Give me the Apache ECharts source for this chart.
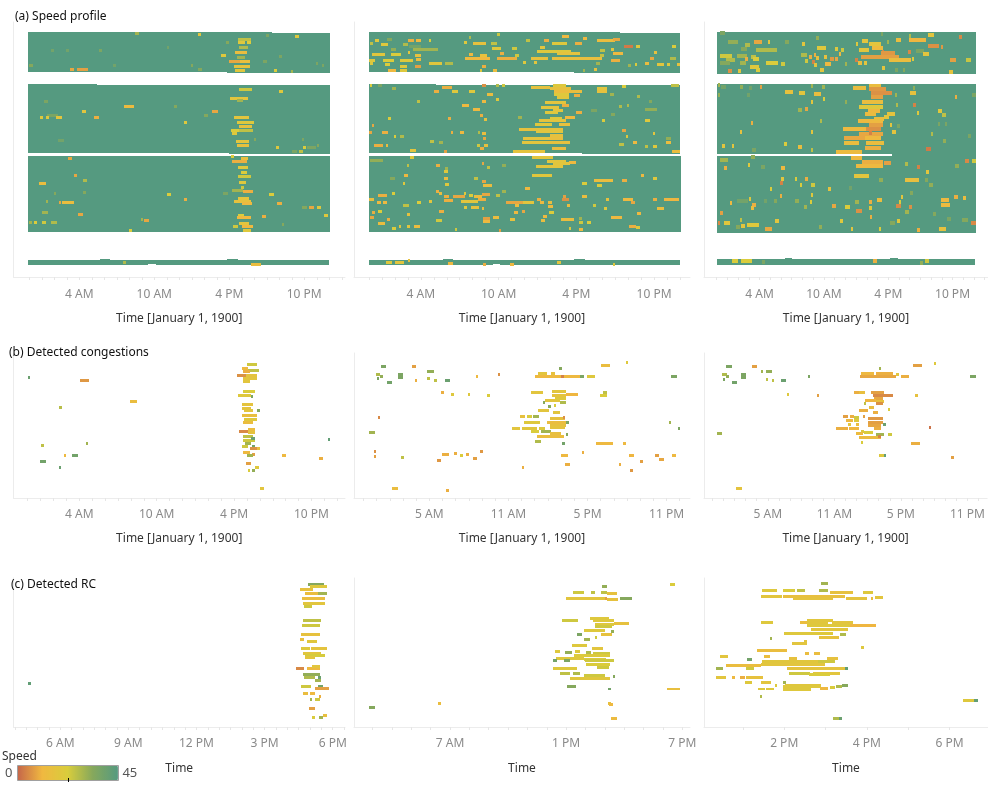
<!DOCTYPE html>
<html><head><meta charset="utf-8">
<style>html,body{margin:0;padding:0;background:#fff}#c{width:988px;height:785px;filter:blur(0.5px)}</style>
<script src="https://cdn.jsdelivr.net/npm/echarts@6/dist/echarts.min.js"></script>
</head><body><div id="c"></div>
<script>
// bands: [firstRow,lastRow,startHour,endHour,speed]; marks: [row,startHour,endHour,speed]
const a1Bands=[[3.33,16.67,-0.1,15.8,45],[3.33,16.9,15.8,19.4,45],[3.67,16.9,19.4,24.05,45],[20.8,43.7,-0.1,5.4,45],[21.1,43.7,5.4,16,45],[21.1,43.95,16,24.05,45],[44.7,70,-0.1,24.05,45],[79.3,81.1,-0.1,5.65,45],[78.9,81.1,5.65,6.45,45],[79.3,81.1,6.45,9.5,45],[79.3,80.7,9.5,10.1,45],[79.3,81.1,10.1,15.85,45],[78.9,81.1,15.85,16.7,45],[79.3,81.1,16.7,24,45]];
const a2Bands=[[3.33,16.67,0,15.8,45],[3.33,16.9,15.8,19.4,45],[3.67,16.9,19.4,24,45],[20.7,43.7,0,5.2,45],[21,43.7,5.2,16.4,45],[21,43.95,16.4,24,45],[44.6,70,0,24.1,45],[79.3,81.1,0,5.7,45],[78.9,81.1,5.7,6.5,45],[79.3,81.1,6.5,9.6,45],[79.3,80.7,9.6,10.1,45],[79.3,81.1,10.1,15.8,45],[78.9,81.1,15.8,16.7,45],[79.3,81.1,16.7,24,45]];
const a3Bands=[[3.33,17.33,0,24.2,45],[20.5,44.1,0,5.6,45],[20.7,44.1,5.6,16.4,45],[20.7,70.4,16.4,24.2,45],[44.6,70.4,0,16.4,45],[79,81.1,0,24.1,45],[78.7,79,6.4,7,45],[78.7,79,16.2,16.9,45]];

const a1Marks=[[3.9,8.45,8.77,30],[4.2,13.5,13.76,18],[4.7,21.25,21.55,20],[4.6,18.9,19.2,36],[5.7,16.7,17.7,26],[6.7,15.75,16,34],[6.8,16.7,17.25,20],[6.8,17.4,17.7,22],[8.4,16.75,17.5,28],[9.4,1.75,2,38],[9.4,2.9,3.15,38],[9.4,5.6,5.8,36],[10.2,16.45,17.44,14],[8.6,11,11.2,38],[11.3,15.36,15.73,20],[11.8,16.64,17.25,30],[11.4,20,20.2,36],[13,16,16.85,9],[13,16.85,17.65,15],[13,18.7,19,36],[13.7,22.9,23.1,36],[14.4,0,0.3,34],[14.4,12.9,13.1,34],[14.4,23.4,23.6,36],[14.8,16.4,17.65,17],[14.6,6.7,6.9,38],[15.7,3.25,3.57,9],[15.7,3.84,4.69,8],[15.9,13.5,13.8,34],[16.2,16.45,17.25,19],[16.2,19.6,19.8,22],[16.5,20.9,21.1,30],
[22.4,16.8,17.8,24],[25.4,16.05,17.5,18],[26,16.6,17.1,30],[23.3,20,20.3,20],[26.5,1.2,1.5,36],[28.3,7.6,8.4,13],[28.3,11.6,11.8,34],[29.7,4.25,4.5,18],[29.7,14.6,15.1,9],[31,1.4,2.3,36],[31,14,14.3,34],[31.9,0.85,1.13,20],[31.9,1.35,1.6,20],[31.9,2.1,2.6,18],[31.7,5.2,5.6,10],[31.9,16.4,17.6,18],[33.6,12.4,12.6,20],[33.6,16.6,18,20],[34.8,16.8,17.8,16],[36,16.1,16.8,22],[36,16.8,17.9,26],[37,16.2,16.6,20],[39.6,2.3,2.8,38],[39,18,18.1,34],[39.9,16.5,17.6,18],[41.3,16.6,17.6,16],[39,21.8,22,36],[41.1,23,23.2,34],[41.7,19.7,20,20],[41.7,21.9,22.1,22],[41.7,22.2,22.9,36],[43.3,21,21.4,36],[43.3,21.6,21.9,26],
[44.9,16.1,16.4,22],[45.4,16.9,17.5,15],[45.6,3.1,3.4,9],[46.4,16.2,17.4,10],[48.4,16.7,17.5,20],[50,16.9,17.4,22],[51.6,16.7,17.7,24],[51.3,3.6,3.8,9],[52.9,4.3,4.6,28],[53.7,0.8,1.3,14],[53.5,16.8,17.3,20],[55,16.9,17.2,24],[56,16.2,17.1,30],[56.4,17.1,17.9,10],[56.7,4.3,4.5,34],[57,2,2.1,34],[57.3,15.5,15.9,36],[57.6,11,11.3,22],[57.6,19.2,19.6,22],[58.7,16.7,17.6,18],[59.7,16.4,17.7,16],[60.4,17,17.8,12],[59.7,1.3,1.5,30],[60.2,2.4,2.5,9],[60.2,2.6,3.6,14],[59,12.4,12.6,10],[60.5,19.8,20.2,10],[61.7,21.8,22.2,34],[61.7,22.4,22.8,9],[61.7,23,23.3,20],[63.6,1,1.5,30],[64.1,3.9,4.3,9],[64.4,16.7,17.2,22],[64.4,23.6,23.9,20],[65,16.6,17.7,12],[64.9,18.6,18.9,10],[65.7,8.9,9.1,30],[66.3,9.2,9.6,9],[66.8,0,0.2,30],[66.8,0.4,0.65,22],[66.8,1,1.3,24],[66.8,1.7,2.2,28],[67.1,16.8,17.6,18],[67.5,20.2,20.4,34],[68.1,16.3,16.7,24],[68.2,17,17.9,12],[69.6,17.1,17.7,20],[69.6,8,8.2,22],
[80.3,7.5,7.7,28],[80.9,17.7,18.5,14]];

const a2Marks=[[4,9.9,10.1,25],[4.9,14.9,15.4,12],[5.4,16.5,16.8,12],[5.8,1.4,1.8,34],[6.2,3,3.5,10],[6.2,3.6,4,12],[6.2,4.6,4.8,22],[5.2,7.7,7.9,28],[6.7,7.3,7.6,20],[7.3,8,9,16],[6.2,0.45,0.75,20],[7.6,0.95,1.5,20],[7.4,2.6,3,28],[8,3.1,4,38],[7.3,0.1,0.3,26],[7.3,9.4,9.9,26],[6.2,12.1,12.4,26],[6,13.5,13.9,10],[7.3,14.1,15.3,20],[7.3,15.9,16.4,10],[6,17.6,19,14],[5.8,18.8,19.4,9],[8,19.7,20.4,3],[8,20.6,20.9,20],[8.2,23.4,23.7,22],[9.7,13,15.6,20],[10.6,14.5,16.3,17],[8.8,9.5,10.2,20],[8.8,11,11.4,24],[8.4,13.2,13.6,18],[9.3,3.4,5.3,30],[9.1,1.7,2.1,32],[10.9,0.2,1.2,19],[10.8,1.7,2.5,22],[10.1,3,3.1,18],[11,3.55,4.05,16],[10.7,7.7,8,12],[11,8.55,9.1,16],[10.4,10.1,10.4,10],[11.3,11.3,11.6,24],[12.1,14.1,18,15],[12.1,9.85,11.4,10],[12.1,7.4,9.3,12],[12.3,12.5,13.8,16],[12.7,0,0.45,20],[12.7,1.1,1.9,22],[12.9,2.4,3.4,20],[12.4,3.6,4,14],[13.8,0.1,0.3,20],[13.8,4.6,5.6,19],[13.9,5.9,6.5,28],[14.2,1.2,1.6,22],[14.9,3.55,4.05,8],[14.9,2.4,2.9,20],[13.6,11.9,12.1,20],[13.6,12.7,13,18],[12.9,18.7,19.4,10],[9.3,18.7,18.9,18],[9.5,17.8,18.2,26],[10.6,18.8,19.6,12],[13.8,21.3,21.6,14],[12.1,21.7,22,9],[10.1,22,22.2,16],[14.3,22.2,22.8,18],[12.3,23.2,23.7,28],[14.3,23.8,24,16],[14.3,23,23.2,20],[14.3,20.5,20.7,22],[14.6,20,20.2,30],[16.2,1.45,2.1,12],[16,2.4,2.9,20],[16.2,8.55,8.75,20],[14.9,8.7,9,10],[16,9.6,9.9,14],[15.7,17.4,17.6,16],[16.2,16.5,16.7,30],[13.8,17.5,17.8,30],[11,17.8,18.1,26],
[21.9,12.5,14,16],[22,14,15.6,16],[21.1,14.2,15.2,20],[23.2,14.3,16.4,14],[24.1,14.3,15.4,20],[24.6,15.8,16.3,10],[25.2,14.5,15.4,19],[26.7,13.6,15.2,18],[27.7,14.9,15.4,10],[28.4,13.3,14.7,18],[30.2,13.6,14.6,20],[29.6,14.2,15,18],[30.2,16,16.4,10],[31.7,15.1,15.9,12],[32.9,13.1,15.2,17],[32.1,14,14.9,20],[34.3,12.8,14.1,20],[34.3,14.7,15.5,16],[35.7,11.6,15,16],[36.6,12.9,15,18],[37.7,14,15,16],[38.7,11.9,13.9,17],[38.7,13.9,15,15],[40.3,11.8,13.9,18],[40.3,13.7,15.5,16],[42,14.1,15.2,14],[43.3,11.1,13.6,17],[21.3,0.05,0.25,22],[21.2,0.7,1,36],[22.1,1.8,2.1,30],[21.7,5.6,6.4,10],[23.2,6.4,6.9,20],[23.2,7.7,8.2,20],[23.2,5,5.4,10],[21.3,8.7,9,6],[21.3,9.8,10,28],[21.3,10.3,10.5,24],[24,9.1,9.6,14],[25.7,9.8,10,20],[26.6,8.7,9,12],[26.6,3.7,3.9,26],[27.7,7.2,7.7,12],[29,8,8.6,12],[32.2,1.5,1.7,22],[32.2,6.1,6.3,10],[31,8.6,8.8,10],[32.4,8.9,9.1,16],[31.8,11.5,11.8,30],[34.4,0.25,0.4,9],[36.7,1,1.5,10],[36.7,0,0.2,9],[38.2,1.95,2.1,22],[38,2.4,2.7,28],[36.9,6.3,6.5,10],[36.7,7,7.3,12],[36.7,8.4,8.6,28],[37.1,8.7,9,14],[38.8,8.8,9,9],[39.7,4.7,5,26],[40,5.4,5.7,30],[41.3,0.4,1.1,10],[41.3,1.3,1.5,14],[41.3,8.3,8.6,24],[41.3,8.9,9.2,16],[42.9,3.2,3.6,18],[42.3,8.6,8.9,10],[43.3,5.8,6,8],[22,17.6,18.4,18],[23.2,17.6,18.4,16],[21.6,19.5,19.8,22],[21.3,23.3,23.9,26],[24.3,18.6,18.9,30],[24.7,20.7,20.9,28],[26.6,21.6,21.8,34],[28,19.3,19.5,28],[27.7,19.9,20.1,28],[29,21.3,22.2,32],[29.6,17.1,17.6,36],[30.7,18.7,19,34],[32.7,18,18.2,22],[32.7,21.3,21.7,20],[36.2,19.5,19.8,9],[38,19.8,20,20],[37.3,21.9,22.1,18],[38.7,22.9,23.3,32],[40,22.9,23.3,14],[40.2,20.4,20.7,12],[40.7,19.3,19.7,26],[41.6,21.3,21.5,26],[41.6,21.9,22.2,20],[43,23.4,24,14],
[45.3,12.6,14.2,18],[46,0.1,1.1,32],[45.1,3.2,3.5,20],[46.6,13.7,15.2,18],[47.3,14.2,15.5,19],[48.2,12.9,15,18],[46.9,15.4,16,12],[47.7,5.2,5.5,10],[47.7,2.9,3.1,26],[47.1,8.7,8.9,9],[48.6,9.1,9.3,26],[47.9,10.3,10.6,32],[48.8,5.9,6.1,30],[49.7,5.8,6.1,20],[51.3,12.6,14.1,19],[51,2.7,3,12],[52,1.6,2,34],[52.3,5.8,6.1,14],[52.3,8.1,8.4,26],[53.1,8.7,9,9],[52.7,17.4,18.8,14],[52.7,19.5,19.9,10],[51.3,21,21.2,12],[52.1,21.9,22.2,20],[53.7,16.4,16.8,22],[54.6,17.6,18,22],[53.9,2.6,2.8,20],[54.1,5.9,6.2,20],[54.6,8.8,9.5,14],[55.4,12,12.4,12],[57.7,0.7,1.4,10],[57.1,1.8,2,22],[56.6,5.2,5.4,10],[57.3,5.4,5.6,14],[58,5.8,6.2,10],[58.3,6.5,7.4,9],[57.1,7.3,7.5,20],[57.7,7.7,8,22],[58,8.1,8.7,14],[57.4,8.7,9.3,9],[57.7,9.8,10.1,26],[56.6,10.3,10.6,30],[59.4,5.8,6.5,10],[59.7,7.1,8.4,18],[59.3,8.4,9,10],[60.1,10.6,11.9,9],[60.1,11.9,12.7,18],[59,0,0.35,14],[60,0.6,0.9,12],[60.3,1.1,1.4,12],[59.7,4.6,4.9,18],[61,2.6,3.1,26],[60.3,3.7,4,22],[59.3,14.9,15.4,6],[58.2,15,15.2,8],[60.2,13.8,14.1,14],[59,13,13.3,10],[60.1,13.2,13.5,12],[58.3,16.4,16.8,14],[59.3,19.6,20.4,12],[60,20.2,20.5,9],[59.3,22.8,23.9,11],[59,21.9,22.2,10],[59.3,18.3,18.5,16],[61,17.3,17.5,24],[61.7,7.3,7.6,20],[61.7,7.9,8.5,16],[62.3,8.7,8.9,14],[61.3,11.3,11.6,14],[61.6,13.8,14.2,12],[61.3,15.3,15.5,14],[62.1,18.1,18.4,20],[63,5.4,5.8,10],[63.6,0.25,0.5,10],[63.3,0.7,1,22],[64,2.9,3.2,16],[63.6,11.2,11.5,12],[63.2,11.8,12,9],[63.6,13.9,14.3,22],[63.8,20.7,21,12],[62.3,22.2,22.8,14],[65.3,0.1,0.4,9],[65.7,1.4,1.6,10],[65.4,8.8,9.3,8],[66.6,8.8,9.3,12],[65.1,9.6,10,14],[65.8,10.9,11.3,16],[64.9,13.4,13.7,12],[66.3,13.3,13.6,14],[65.8,14.8,15.8,14],[65.4,16.2,16.4,30],[66.9,16.2,16.5,24],[65,18.7,19.5,12],[66.3,5.2,5.6,24],[67,0.7,1.2,14],[66.7,16.8,17.1,22],[68.7,1.8,2.1,22],[68,2.3,2.5,18],[68.1,2.9,3.2,18],[68.1,3.5,3.9,14],[68.3,20.1,20.6,10],[68.4,20.6,20.9,20],[68.8,15.4,15.6,20],[69.3,6.6,6.8,24],[69.3,16.2,16.5,12],[69.4,10,10.2,8],
[80,1.35,1.8,20],[80,2,2.7,18],[79.6,3,3.2,16],[80.4,6.1,6.5,12],[80.7,8.8,9,10],[80.7,10.9,11.2,12],[80.1,14.5,14.8,18],[80.7,18.8,19,20]];

const a3Marks=[[3.8,0.3,0.8,36],[4,15.3,15.5,36],[4.6,17.9,18.1,28],[4.3,19.7,20.3,18],[5,22.6,22.9,5],[5.2,9.3,9.5,32],[6.7,1.1,2,32],[6.7,3.5,4.2,9],[6.7,4.8,5,18],[6.7,6.4,6.7,34],[7.3,8,8.2,18],[7.3,13,13.2,20],[6.3,13.6,14.1,18],[7.3,14.2,15.3,18],[6,16.7,17.2,14],[6,17.9,19.5,11],[8,19.7,20.7,6],[8.4,20.9,21.1,7],[7.7,2.6,3.1,28],[9.1,2.3,2.8,34],[9.3,3.7,5.6,28],[8.8,9.4,10.2,20],[9,11,11.3,20],[9.3,11.6,11.9,24],[9.3,13.3,14.2,18],[8.8,14.5,15.5,13],[6.8,15.9,16.1,30],[9.9,15.4,15.6,4],[10.4,15.3,16.6,7],[9.9,17.8,18.1,5],[9.7,18.6,19.3,36],[10.6,19.2,19.8,18],[11.3,0.3,1.4,24],[11.2,1.9,2.8,30],[11.8,3.2,3.7,26],[11,7.9,8.4,28],[11,9.1,9.3,10],[11.6,10,10.3,16],[10.8,11.4,11.6,12],[11.8,8.6,8.9,10],[12.1,9.3,9.5,16],[12.3,10.6,10.9,7],[12.3,11,11.3,9],[11.8,13.5,17,8],[12.6,16.1,18.1,14],[12.2,18.2,18.4,20],[12.7,0.9,1.7,28],[12.4,2.6,2.9,10],[12.4,3.4,3.9,22],[12.6,21.8,22.3,8],[12.6,23.3,23.7,25],[13.2,8.9,9.2,4],[12.9,8.2,8.5,24],[12.7,12.9,13.2,4],[13.8,4.6,5.7,22],[14,6,6.4,24],[13.8,2.2,2.7,30],[13.6,0.3,1.2,34],[13.9,10.1,10.7,12],[14.3,9.1,9.4,18],[13.9,12,12.2,30],[13.8,13.2,13.6,14],[13.8,13.7,14,18],[15,3.1,3.9,20],[15.3,15.4,15.7,18],[16.3,1.1,1.4,6],[16.3,2,2.3,18],[16,3.7,4,22],[16,9.6,10,18],[16,16.6,16.9,36],[16,17.4,17.6,34],[16.8,21.7,22,17],
[21.1,0.1,0.3,30],[21.6,0.4,0.9,38],[21.6,2.2,2.5,32],[22,3,3.3,38],[21.6,4,4.2,8],[21.3,8.8,9,30],[21.6,9.8,10.1,30],[23.3,6.4,7.1,16],[23.6,7.7,8.2,18],[24,9.1,9.7,14],[24.3,0.1,0.3,32],[24.3,2.8,3.1,38],[25.7,9.9,10.1,22],[26.6,8.8,9,18],[29.3,7.6,8,30],[29.1,8.2,8.5,9],[33.7,3.2,3.4,10],[33,9.6,9.8,28],[36.7,2.2,2.4,16],[36.7,8.8,9,18],[41.3,0.5,0.8,18],[41.3,1.4,1.6,18],[40.7,6.3,6.6,22],[41.7,7.6,8,14],[42.7,8.8,9,26],[42.7,3.3,3.7,36],[22,12.7,13.9,14],[21.2,14.2,15.3,14],[22.4,14.2,15.8,7],[23.7,14.4,16.4,6],[25.1,14.4,15.5,8],[26.7,13.6,15.5,14],[28.2,13.9,15.5,20],[28.3,13.3,13.9,20],[29.6,14.1,15.2,12],[30.8,13.8,14.9,13],[30.7,15.9,16.6,17],[31.8,15.6,16.1,18],[33,13.2,15.5,12],[32.4,14.7,15.6,14],[34.3,14.2,15.5,8],[35.7,11.8,13.9,12],[35.7,13.9,15.3,6],[37.4,13.3,15.5,9],[34.3,16.2,16.4,18],[36.7,16.4,16.7,17],[38.7,11.9,13.9,9],[38.7,13.8,15.3,12],[40.3,11.9,13.3,14],[40.3,13.9,15.6,14],[42,13.8,15.3,10],[43.3,11.1,13.6,13],[37.1,14.2,14.5,4],[23.6,18,18.6,16],[21.9,18.3,18.5,32],[24.3,16.6,16.8,30],[24.9,22.2,22.4,10],[24.3,23.8,24.2,36],[26.6,12,12.2,32],[27.7,16.7,16.9,28],[27.7,18.3,18.6,4],[30.4,18.7,18.9,20],[29.7,20.6,21,20],[31,21,21.4,26],[34.6,16.8,17.1,36],[34,20.6,20.8,36],[34,21.3,21.5,36],[37.3,20,20.2,28],[38,23.4,23.7,36],[39.7,21.1,21.4,32],[42.3,19.5,20,3],
[46,0.3,1.1,30],[44.9,3.2,3.6,32],[47.7,2.9,3.1,20],[48.7,0.7,1,10],[48.2,4.1,4.5,36],[48.7,6,6.4,12],[45.3,12.5,13.6,12],[46.6,13.6,15.5,10],[48,13,15.5,12],[47.1,15.6,16.3,8],[47.3,17.6,17.8,28],[48.4,18.7,19,4],[47.9,22.2,22.6,32],[46.3,23.2,23.5,5],[46.3,23.8,24.2,24],[50,19.5,19.8,18],[51.3,12.8,14.2,18],[52.3,6,6.3,18],[52.3,7.3,7.5,22],[52.3,8.2,8.5,10],[53.8,5.9,6.2,4],[54.3,7.8,8,22],[54.3,8.8,9.2,24],[52.7,15.1,15.5,32],[52.7,17.6,18.9,15],[52.7,19.4,19.7,34],[54.3,19.8,20.2,32],[55.7,5,5.2,22],[55.7,10.4,10.7,17],[55.4,12.3,12.6,38],[57,18,18.3,34],[58.2,17.2,17.4,18],[58,5.9,6.1,10],[57.7,8.8,9,20],[60.2,1.2,1.4,12],[59.8,1.9,2.9,38],[59,3,3.2,20],[59.8,4.4,4.7,38],[59.8,5.3,5.6,34],[59.8,7.3,7.7,32],[60,8.7,8.9,22],[60,12.9,13.3,30],[60,14.2,14.5,10],[59.3,15,15.4,14],[61.8,12,12.4,22],[59.9,17,17.2,22],[61.3,16.7,17.2,5],[61.7,17.9,18.2,6],[59.3,20.9,21.7,12],[61,20.9,21.8,13],[58.3,22.1,22.5,10],[58.8,23,23.3,14],[61,3.3,3.7,10],[62,3.2,3.5,14],[61.3,10.8,11.1,9],[61.7,8.1,8.4,30],[63.1,13,13.6,6],[62,14.2,14.5,20],[63.8,0.3,0.6,8],[63.2,17.6,17.9,30],[64,20.2,20.5,34],[66,2.2,2.4,26],[66.3,5.4,5.8,18],[67,0.7,1.2,19],[67,0.1,0.3,5],[66.3,11.5,11.8,20],[66.4,16.8,17.1,20],[65,14.3,14.5,10],[67.1,16.2,16.6,34],[66,22.9,23.4,34],[65.7,21.5,21.9,36],[67,23.7,24.2,5],[68.2,1.8,2.2,34],[68,2.3,2.6,18],[67.8,2.8,3.9,20],[69.1,4.5,5.2,9],[68.4,9.5,9.8,32],[69.1,12.5,12.7,18],[69.1,15.1,15.3,22],[69.3,18.7,19,10],[69,20.7,21.4,16],
[79.7,1.45,2,22],[79.7,2.3,3.25,22],[79.9,4.2,4.5,36],[79.7,14.6,15,10],[79.6,19.4,19.8,24],[80.4,19,19.2,32]];

const b1Marks=[[8.2,0.05,0.2,40],[9.3,4.05,4.75,7],[16.2,7.9,8.45,14],[18.2,2.4,2.65,27],[30.7,1.05,1.3,26],[30,4.5,4.65,30],[34,2.8,3,12],[34,3.45,3.9,38],[36,0.95,1.4,38],[38,2.4,2.55,40],[28.7,23.3,23.45,42],[34,19.7,20,12],[35,22.6,22.9,10],[3.8,17,17.75,24],[5.1,16.6,17.1,12],[5.9,17.1,17.9,26],[6.2,16.7,17.2,10],[7.6,16.25,16.9,6],[7.6,16.9,17.75,17],[8.4,16.7,17.75,18],[9.6,16.7,17.2,18],[12.9,16.7,17.6,22],[14.3,16.3,17.35,20],[14.5,17.3,17.5,36],[17.3,16.6,17.5,17],[18.4,16.6,17.35,17],[19.3,16.75,17.45,18],[19,17.8,18,34],[20.7,16.6,17.8,15],[22.3,16.75,17.75,20],[23.2,16.7,17.5,14],[25.4,17.1,17.6,14],[26.3,16.4,17.1,5],[26.6,17.1,17.6,16],[27.9,16.7,17.5,26],[29,16.7,17.6,24],[28.4,17.3,17.6,40],[30.3,16.85,17.35,30],[31,16.6,17.1,24],[31,17.4,17.6,38],[31.7,17.2,17.75,6],[31.7,17.75,18,15],[33,16.7,17.2,12],[33.7,17.4,17.6,8],[34.3,17,17.5,30],[36.7,16.9,17.3,8],[38.3,17.6,17.95,20],[39.3,17.05,17.25,22],[39.3,17.4,17.6,32],[45.3,18,18.3,18]];

const b2Marks=[[4.6,1.3,1.7,36],[4.6,3.65,4,8],[6.2,4.8,5.35,32],[7.2,0.95,1.25,28],[7.9,1.25,1.5,32],[8.6,1.05,1.2,36],[9.9,1.8,2.2,38],[7.3,2.6,3,36],[8.2,2.6,3,36],[9.2,3.9,4.05,10],[8.6,4.85,5.05,26],[9,5.35,5.55,26],[9,6.2,6.55,40],[7.9,8.55,8.7,12],[7,10.2,10.4,6],[13.2,5.9,6.1,10],[13.9,6.65,6.85,20],[13.9,7.95,8.1,20],[14.2,9.4,9.6,22],[21.6,1.1,1.25,5],[26.6,0.4,0.9,30],[32.9,0.8,0.95,6],[34.6,0.8,0.95,8],[34.9,2.85,3.05,26],[35.9,5.6,5.9,7],[33.9,6,6.5,10],[33.6,6.9,7.1,10],[34.2,7.3,7.55,22],[33.9,7.8,8,10],[35.2,8.3,8.6,8],[32.9,8.85,9.05,7],[45.3,2.2,2.6,14],[45.7,6.3,6.5,10],[38.2,12,12.2,10],[5.1,14.85,15.1,34],[4.2,18.05,18.7,14],[3.2,19.95,20.1,20],[6.7,13.25,13.9,18],[6.7,14.2,14.5,16],[7.9,13,16.45,12],[7.9,16.45,16.7,36],[7.9,15,15.2,4],[7.9,17,17.55,20],[7.9,23.35,23.8,36],[13.2,12.75,13.65,18],[12.9,14.3,15.4,18],[13.8,15.4,16.3,11],[14,14.3,15.4,17],[14,17.95,18.45,22],[13.2,18.2,18.5,26],[15.9,13.8,14.9,18],[15.1,14.55,15.4,20],[16.6,13.65,13.8,34],[16.6,14.9,15.4,28],[17.9,14,14.2,34],[17.6,14.45,14.6,22],[19.3,13.25,14.1,18],[19.9,14.4,14.9,18],[21,11.9,12.25,16],[21,12.45,12.8,22],[21.2,12.85,13.3,30],[21.8,14.15,15.3,16],[21.6,15.15,15.3,6],[23,12.15,13.4,20],[23,13.9,15.4,14],[24.1,14.15,15.4,16],[23.2,15.4,15.6,36],[25,11.25,11.85,18],[25,12,13.15,19],[25,13.3,13.8,20],[24.8,14.15,15.3,17],[26.2,12.7,13.3,22],[26.3,13.5,14.2,30],[26.8,14.15,15,15],[27,15.4,15.55,34],[27.7,13.15,15.2,14],[29.6,13.05,13.5,28],[30.3,15.05,15.3,38],[30.3,17.65,18.9,12],[30.3,19.7,19.9,12],[34,15,15.5,12],[33.3,16.6,16.75,10],[37.3,15.3,15.65,10],[34,20.15,20.5,11],[37,19.4,19.55,10],[39,20.2,20.45,7],[36.3,20.95,21.2,8],[34,22.1,22.4,8],[35.6,22.45,22.8,9],[34,23.45,23.75,12],[23.3,23.15,23.3,30],[25,23.85,24,36]];

const b3Marks=[[4.6,1.25,1.75,36],[4.6,3.6,4,8],[6.2,4.35,4.5,30],[6.2,4.8,5.4,32],[7.1,0.85,1.3,28],[7.9,1.25,1.55,32],[8.7,1,1.15,36],[9.9,1.8,2.2,38],[7.1,2.55,3,36],[8.2,2.55,3,36],[8.7,4.85,5.05,26],[9,5.4,5.6,26],[9,6.2,6.6,40],[7.9,8.6,8.75,36],[13.9,6.75,6.95,20],[14.2,9.4,9.6,8],[26.7,0.4,0.9,30],[45.3,2.1,2.65,17],[34.9,21.55,21.75,8],[24.7,19.5,19.7,2],[4.2,18.1,18.9,8],[3.6,20,20.2,20],[5.1,15,15.2,30],[6.7,13.4,14.6,12],[6.9,14.75,16.25,10],[7.9,13.35,16.55,9],[7.3,16.55,16.8,18],[7.9,17,17.7,10],[7.9,23.25,23.75,36],[13.2,12.8,13.2,10],[13.2,13.2,13.8,15],[13.2,14.3,15.5,8],[14.2,14.45,16.25,5],[15.2,14.6,15.35,9],[15.9,13.8,14.75,11],[16.2,14.75,15.5,16],[16.9,14.75,15.35,6],[16.9,13.65,13.8,26],[18,14.15,14.6,14],[18.7,15.85,16.05,22],[19.3,13.2,14.05,10],[19.9,14.45,14.9,10],[21,11.8,12.2,8],[21,12.4,12.8,10],[21.5,12.8,13.25,24],[21,13.55,13.7,8],[21.8,14,15.35,7],[22.6,12.05,12.65,12],[22.6,12.8,13.25,20],[23.2,14,15.35,8],[23.7,12.2,12.5,18],[23.7,12.95,13.25,14],[23.7,15.35,15.65,40],[24.3,14,15.2,9],[25.3,11.15,12.2,10],[25.3,12.35,13.25,11],[25,14.6,15.2,10],[26,13.4,13.7,20],[26.8,12.95,13.55,13],[26.4,13.7,14.45,22],[27,14.75,15.5,30],[27.3,15.8,16.2,24],[28.1,13.25,15.2,13],[27.7,14.9,15.2,4],[29.7,13.4,13.55,22],[30.3,17.9,18.7,10],[34.3,15.05,15.45,20],[34.3,15.45,15.55,42],[14.3,18.3,18.5,16]];

const c1Marks=[[35.1,4.6,4.7,42],[2.1,16.92,17.6,34],[3,17,17.75,20],[3.8,16.55,17.15,16],[5.3,16.8,17.35,14],[5.1,17.35,17.75,30],[7,16.65,17.65,14],[8.6,16.7,17.65,18],[9.4,16.75,17.1,24],[14.1,16.7,17.5,26],[15.9,16.65,17.45,24],[19,16.6,17.45,16],[20.4,16.55,16.75,15],[21.1,16.85,17.3,19],[23.6,16.6,17,20],[23.4,17.05,17.75,17],[25.2,16.7,17.5,18],[25.8,16.8,17.65,23],[26.6,16.8,17.2,18],[30.3,16.4,16.75,5],[30.3,16.85,17.45,12],[29.7,17.1,17.45,18],[32.2,16.7,17.45,32],[33.2,16.75,17.2,28],[33.1,17.35,17.5,40],[34.1,17.2,17.5,30],[36.4,16.6,17.05,24],[36.3,17.35,17.55,38],[37,17.2,17.85,8],[38.7,16.7,16.9,14],[38.7,17,17.2,12],[39.7,17.4,17.5,10],[40.7,17,17.1,30],[40.7,17.2,17.45,24],[43.7,16.95,17.2,8],[45.8,17.55,17.75,15],[46.7,17.1,17.2,22],[46.7,17.4,17.55,30]];

const c2Marks=[[43.4,2.8,3.1,34],[42.1,6.4,6.55,14],[2.9,14.85,15.1,32],[4.8,13.35,13.9,24],[4.8,14.3,14.5,26],[4.8,14.8,15.1,26],[5.3,15.1,15.65,16],[6.8,13,15.1,18],[6.8,15,15.1,8],[7.1,15.1,15.7,16],[7,15.8,16.4,34],[2.1,18.35,18.6,22],[14.1,12.8,13.6,24],[13.6,14.25,15.2,20],[14.2,14.4,15.45,20],[15.1,15.45,16.25,16],[15.6,14.5,15.45,20],[16.3,14.5,15.35,24],[17.4,13.9,15,20],[18.8,13.55,13.8,36],[18.8,14.8,15.35,16],[18,15.3,15.45,32],[20.4,13.9,14.25,30],[19.8,14.5,14.6,24],[22.4,13.3,14.1,20],[23.4,14.35,14.9,18],[24.4,12.4,12.7,20],[24.8,12.95,13.3,32],[24.4,13.45,13.7,20],[24.8,14.05,14.3,28],[25.1,14.4,15.25,24],[25.9,13.4,15.25,21],[26.8,12.5,13.9,20],[27.1,13.9,15.05,21],[27.7,12.3,12.55,38],[27.7,12.9,13.2,36],[27.7,13.95,15.45,24],[29,14.05,15.25,22],[29.8,14.6,15.2,24],[30.1,12.3,13.55,20],[31.8,12.7,13.2,26],[31.8,13.35,13.7,28],[32.6,13.9,15,24],[33.7,13.2,15.25,19],[32.8,15.4,15.5,34],[36.1,13.05,13.5,34],[37.1,15.15,15.3,38],[37.1,18.2,18.9,15],[42.1,15.15,15.3,16],[42.4,15.2,15.4,12],[46.8,15.3,15.65,13]];

const c3Marks=[[2,14.9,15.05,30],[4.3,13.46,13.83,20],[4.3,13.98,14.26,22],[4.3,14.3,14.5,26],[4.3,14.85,15.06,28],[4.9,15.12,15.67,16],[5,15.9,16.15,20],[6.3,13.43,13.94,18],[6.2,13.98,15.47,15],[6.9,14.22,15.19,17],[6.9,15.5,16,17],[6.8,16.1,16.15,14],[6.4,16.2,16.4,18],[14.8,13.43,13.73,20],[14.8,14.38,14.54,14],[14.1,14.56,15.19,19],[14.8,14.54,15.06,19],[14.9,15.15,15.67,18],[16,14.54,15.63,20],[16,15.59,16.23,11],[17.3,14.66,15.55,18],[18.7,14,15.19,20],[19,15.35,15.5,28],[20.1,13.65,13.7,30],[20,14.85,15.33,16],[22,14.2,14.56,18],[21.1,14.47,14.55,18],[24.1,13.35,14.07,14],[23.1,15.85,15.93,20],[25.1,14.5,14.6,14],[25.1,14.72,14.86,14],[26.4,12.44,12.65,18],[26.4,13.5,13.65,14],[26.8,14.12,14.31,16],[26.8,15.04,15.31,16],[27.1,13.09,13.23,38],[28,13.46,14.94,19],[27.9,14.82,15.23,24],[29.1,12.59,13.45,14],[28.9,13.45,14.98,18],[30.4,12.36,12.52,30],[30.4,13.07,13.27,24],[30.4,14.07,15.51,17],[30.4,15.47,15.55,42],[31.8,14.12,14.62,24],[31.8,14.7,15.35,18],[32.4,14.6,15.1,22],[33.1,12.36,12.6,18],[33.1,12.73,12.82,12],[33.1,12.92,13.06,10],[33.1,13.07,13.49,16],[34.8,13.05,13.21,20],[34.8,13.44,13.67,18],[34.8,13.98,14.04,30],[35.8,13.77,13.82,20],[35.8,14.02,14.9,19],[36.4,13.98,14.86,20],[37.3,13.98,14.66,20],[37,14.86,15.06,12],[36.7,15.12,15.23,22],[36.1,15.25,15.41,28],[35.8,15.41,15.55,34],[37.1,13.37,13.53,20],[37.1,13.56,13.76,20],[39.7,13.42,13.46,28],[40.8,18.33,18.65,20],[40.8,18.6,18.68,42],[46.8,15.19,15.39,28],[46.8,15.33,15.39,40]];

const aLabels1=[4,10,16,22], aLabels2=[4,10,16,22], aLabels3=[4,10,16,22];
const bLabels1=[4,10,16,22], bLabels2=[5,11,17,23], bLabels3=[5,11,17,23];
const cLabels1=[6,9,12,15,18], cLabels2=[7,13,19], cLabels3=[14,16,18];
const titleA="Time [January 1, 1900]", titleC="Time";
const speedStops=['#c4644a','#f0b840','#d9cd3c','#86a85c','#559a80'];

const fmtHour=h=>{const p=h%24,hh=p%12===0?12:p%12;return hh+(p<12?' AM':' PM');};
const hourTicks=(from,to,step)=>{const r=[];for(let h=from;h<=to;h+=step)r.push(h);return r;};

const rowsA=85, rowsB=48.33, rowsC=49.8;
const panels=[
 {l:13.5,r:345,t:22,b:277,rows:rowsA,min:-1.264,max:25.26,bands:a1Bands,marks:a1Marks,labels:aLabels1,ticks:hourTicks(0,25,1),th:1,name:titleA,gap:36,mg:12},
 {l:354,r:690,t:22,b:277,rows:rowsA,min:-1.157,max:24.77,bands:a2Bands,marks:a2Marks,labels:aLabels2,ticks:hourTicks(0,24,1),th:1,name:titleA,gap:36,mg:12},
 {l:704,r:988,t:22,b:277,rows:rowsA,min:-1.185,max:25.31,bands:a3Bands,marks:a3Marks,labels:aLabels3,ticks:hourTicks(0,25,1),th:1.34,name:titleA,gap:36,mg:12},
 {l:13.5,r:345,t:353,b:498,rows:rowsB,min:-1.1,max:24.6,bands:[],marks:b1Marks,labels:bLabels1,ticks:hourTicks(0,24,1),th:1,name:titleA,gap:35,mg:11},
 {l:354,r:690,t:353,b:498,rows:rowsB,min:-0.713,max:24.78,bands:[],marks:b2Marks,labels:bLabels2,ticks:hourTicks(0,24,1),th:1,name:titleA,gap:35,mg:11},
 {l:704,r:988,t:353,b:498,rows:rowsB,min:-0.746,max:24.77,bands:[],marks:b3Marks,labels:bLabels3,ticks:hourTicks(0,24,1),th:1,name:titleA,gap:35,mg:11},
 {l:13.5,r:345,t:578,b:727,rows:rowsC,min:3.94,max:18.54,bands:[],marks:c1Marks,labels:cLabels1,ticks:hourTicks(4,18.5,0.5),th:1,name:titleC,gap:36,mg:11},
 {l:354,r:690,t:578,b:727,rows:rowsC,min:2.04,max:19.4,bands:[],marks:c2Marks,labels:cLabels2,ticks:hourTicks(3,19,1),th:1,name:titleC,gap:36,mg:11},
 {l:704,r:988,t:578,b:727,rows:rowsC,min:12.06,max:18.93,bands:[],marks:c3Marks,labels:cLabels3,ticks:hourTicks(13,18,1),th:1,name:titleC,gap:36,mg:11}
];

const renderCell=(params,api)=>{
  const p0=api.coord([api.value(2),api.value(0)]), p1=api.coord([api.value(3),api.value(1)]);
  const x0=Math.round(p0[0]), x1=Math.round(p1[0]), y0=Math.round(p0[1]), y1=Math.round(p1[1]);
  return {type:'rect',shape:{x:x0,y:y0,width:Math.max(x1-x0,2),height:Math.max(y1-y0,2)},style:{fill:api.visual('color')}};
};

const grids=[],xAxes=[],yAxes=[],series=[];
panels.forEach((p,i)=>{
  grids.push({left:p.l,top:p.t,width:p.r-p.l,height:p.b-p.t,containLabel:false});
  xAxes.push({type:'value',gridIndex:i,min:p.min,max:p.max,scale:true,splitLine:{show:false},
    axisLine:{show:true,onZero:false,lineStyle:{color:'#ececec',width:1}},
    axisTick:{show:true,length:3,customValues:p.ticks,lineStyle:{color:'#e6e6e6'}},
    axisLabel:{show:true,customValues:p.labels,formatter:v=>fmtHour(v),color:'#8a8a8a',fontFamily:'Noto Sans',fontSize:12,margin:p.mg,hideOverlap:false},
    name:p.name,nameLocation:'middle',nameGap:p.gap,nameTextStyle:{color:'#333',fontFamily:'Noto Sans',fontSize:12}});
  yAxes.push({type:'value',gridIndex:i,inverse:true,min:0,max:p.rows,splitLine:{show:false},
    axisLine:{show:true,onZero:false,lineStyle:{color:'#ececec',width:1}},axisTick:{show:false},axisLabel:{show:false}});
  const cells=p.bands.concat(p.marks.map(([r,a,b,s])=>[r-p.th/2,r+p.th/2,a,b,s]));
  series.push({type:'custom',xAxisIndex:i,yAxisIndex:i,renderItem:renderCell,data:cells,clip:true,silent:true,progressive:0,
    encode:{x:[2,3],y:[0,1]}});
});

const tf={fontFamily:'Noto Sans',fontSize:12,fontWeight:'normal',color:'#111'};
const chart=echarts.init(document.getElementById('c'),null,{renderer:'canvas'});
chart.setOption({
  animation:false,backgroundColor:'#fff',
  title:[
    {text:'(a) Speed profile',left:15,top:11,padding:0,textStyle:tf},
    {text:'(b) Detected congestions',left:9,top:347,padding:0,textStyle:tf},
    {text:'(c) Detected RC',left:11,top:579,padding:0,textStyle:tf},
    {text:'Speed',left:2,top:751,padding:0,textStyle:Object.assign({},tf,{color:'#333'})}
  ],
  grid:grids,xAxis:xAxes,yAxis:yAxes,series:series,
  visualMap:{type:'continuous',min:0,max:45,dimension:4,seriesIndex:panels.map((_,i)=>i),calculable:false,realtime:false,
    orient:'horizontal',left:5,top:765,itemWidth:16,itemHeight:101,text:['45','0'],textGap:4.5,padding:0,
    textStyle:{color:'#555',fontFamily:'Noto Sans',fontSize:13},inRange:{color:speedStops}},
  graphic:[
    {type:'rect',shape:{x:17.5,y:765.5,width:101,height:15},style:{fill:'none',stroke:'#a0a0a0',lineWidth:1},z:100},
    {type:'line',shape:{x1:68.5,y1:778,x2:68.5,y2:782},style:{stroke:'#000',lineWidth:1},z:101}
  ]
});
</script></body></html>
